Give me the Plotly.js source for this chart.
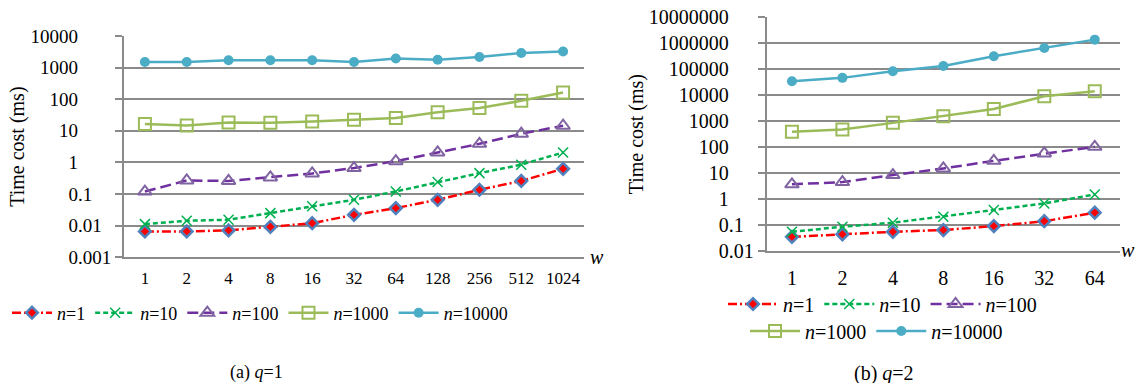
<!DOCTYPE html>
<html>
<head>
<meta charset="utf-8">
<script src="https://cdn.plot.ly/plotly-3.0.1.min.js"></script>
<style>html,body{margin:0;padding:0;background:#fff;}#chart{width:1135px;height:383px;}</style>
</head>
<body>
<div id="chart"></div>
<script>
// ---- data (a) q=1 ----
const categoriesA = ['1','2','4','8','16','32','64','128','256','512','1024'];
const a_n1     = [0.0066,0.0066,0.0071,0.0092,0.012,0.022,0.036,0.066,0.137,0.26,0.63];
const a_n10    = [0.0112,0.0143,0.0154,0.025,0.041,0.066,0.121,0.24,0.46,0.85,2.07];
const a_n100   = [0.12,0.27,0.26,0.335,0.45,0.665,1.1,2.07,3.9,8.1,14.5];
const a_n1000  = [16.4,14.8,18.4,18,19.9,22.5,25.4,39,52.7,89,164];
const a_n10000 = [1500,1500,1700,1700,1700,1500,1950,1780,2160,2900,3250];
const yTicksA  = [0.001,0.01,0.1,1,10,100,1000,10000];
const yLabelsA = ['0.001','0.01','0.1','1','10','100','1000','10000'];

// ---- data (b) q=2 ----
const categoriesB = ['1','2','4','8','16','32','64'];
const b_n1     = [0.035,0.044,0.055,0.064,0.091,0.14,0.30];
const b_n10    = [0.055,0.086,0.123,0.21,0.38,0.68,1.5];
const b_n100   = [3.7,4.5,8.4,15.1,29.7,57,103];
const b_n1000  = [390,480,860,1550,2960,9100,14200];
const b_n10000 = [34600,46500,83000,134000,316000,660000,1380000];
const yTicksB  = [0.01,0.1,1,10,100,1000,10000,100000,1000000,10000000];
const yLabelsB = ['0.01','0.1','1','10','100','1000','10000','100000','1000000','10000000'];

const seriesNames = ['<i>n</i>=1','<i>n</i>=10','<i>n</i>=100','<i>n</i>=1000','<i>n</i>=10000'];
const captionA = '(a) <i>q</i>=1';
const captionB = '(b) <i>q</i>=2';
const yTitle = 'Time cost (ms)';
const xLabel = '<i>w</i>';

// ---- layout helpers ----
const W = 1135, H = 383;
const px = x => x / W;
const py = y => 1 - y / H;
const FONT = 'Liberation Serif, Times New Roman, serif';
const GRID = '#8a8a8a';

// pad labels so that decimal points line up (like the original number format)
function padLabels(labels) {
  const maxDec = Math.max(...labels.map(s => s.includes('.') ? s.split('.')[1].length : 0));
  return labels.map(s => {
    const dec = s.includes('.') ? s.split('.')[1].length : -1;
    if (dec < 0) return s + '\u2008' + '\u2007'.repeat(maxDec);
    return s + '\u2007'.repeat(maxDec - dec);
  });
}

const styles = [
  {color:'#ff0000', dash:'9px,3px,2px,3px', symbol:'diamond', size:9, mcolor:'#ff0000', mline:'#4f81bd', mlw:2.5},
  {color:'#00b050', dash:'5px,3px', symbol:'x-thin-open', size:10, mcolor:'#00b050', mline:'#00b050', mlw:1.5},
  {color:'#7030a0', dash:'11px,5px', symbol:'triangle-up-open', size:12, mcolor:'#8064a2', mline:'#8064a2', mlw:2},
  {color:'#9bbb59', dash:'solid', symbol:'square-open', size:12, mcolor:'#9bbb59', mline:'#9bbb59', mlw:2},
  {color:'#4bacc6', dash:'solid', symbol:'circle', size:10, mcolor:'#4bacc6', mline:'#4bacc6', mlw:0}
];

function mk(xcats, ys, i, xa, ya, legend) {
  const s = styles[i];
  return {
    type:'scatter', mode:'lines+markers', x:xcats, y:ys, name:seriesNames[i],
    xaxis:xa, yaxis:ya, legend:legend, cliponaxis:false,
    line:{color:s.color, width:2.5, dash:s.dash},
    marker:{symbol:s.symbol, size:s.size, color:s.mcolor, line:{color:s.mline, width:s.mlw}}
  };
}

const seriesA = [a_n1, a_n10, a_n100, a_n1000, a_n10000];
const seriesB = [b_n1, b_n10, b_n100, b_n1000, b_n10000];
const traces = [];
seriesA.forEach((ys,i) => traces.push(mk(categoriesA, ys, i, 'x', 'y', 'legend')));
seriesB.forEach((ys,i) => traces.push(mk(categoriesB, ys, i, 'x2', 'y2', i < 3 ? 'legend2' : 'legend3')));

// domains (pixels -> paper)
const domXA = [px(124), px(584)], domYA = [py(257.3), py(36)];
const domXB = [px(766.7), px(1120)], domYB = [py(251), py(17.3)];
const rangeA = [Math.log10(yTicksA[0]), Math.log10(yTicksA[yTicksA.length-1])];
const rangeB = [Math.log10(yTicksB[0]), Math.log10(yTicksB[yTicksB.length-1])];
// y=1 crossing position of the category axis line
const crossA = domYA[0] + (0 - rangeA[0]) / (rangeA[1] - rangeA[0]) * (domYA[1] - domYA[0]);
const crossB = domYB[0] + (0 - rangeB[0]) / (rangeB[1] - rangeB[0]) * (domYB[1] - domYB[0]);

function yax(domain, anchor, range, ticks, labels, size) {
  return {
    domain, anchor, type:'log', range, tickvals:ticks, ticktext:padLabels(labels),
    showgrid:true, gridcolor:GRID, gridwidth:2,
    showline:true, linecolor:GRID, linewidth:2,
    ticks:'outside', ticklen:7, tickwidth:2, tickcolor:GRID,
    tickfont:{family:FONT, size:size, color:'#000'},
    title:{text:yTitle, font:{family:FONT, size:20, color:'#000'}, standoff:0},
    zeroline:false, fixedrange:true
  };
}
function xax(domain, anchor, cats, size, standoff) {
  return {
    domain, anchor, type:'category', categoryarray:cats, range:[-0.5, cats.length-0.5],
    showgrid:false, showline:true, linecolor:GRID, linewidth:2, ticks:'',
    tickfont:{family:FONT, size:size, color:'#000'}, ticklabelstandoff:standoff, fixedrange:true
  };
}
function crossAx(domain, cross, cats, over) {
  const tv = cats.map((c,i) => i); tv.push(cats.length - 0.5);
  return {
    domain, anchor:'free', position:cross, overlaying:over, type:'linear',
    range:[-0.5, cats.length-0.5], tickvals:tv, showticklabels:false,
    ticks:'inside', ticklen:5, tickwidth:2, tickcolor:GRID,
    showline:true, linecolor:GRID, linewidth:2, showgrid:false, zeroline:false, fixedrange:true
  };
}

const layout = {
  width:W, height:H, autosize:false,
  margin:{l:0, r:0, t:0, b:0},
  paper_bgcolor:'#ffffff', plot_bgcolor:'rgba(0,0,0,0)',
  font:{family:FONT, color:'#000'},
  xaxis: xax(domXA, 'y', categoriesA, 17, 4),
  yaxis: yax(domYA, 'x', rangeA, yTicksA, yLabelsA, 19),
  xaxis2: xax(domXB, 'y2', categoriesB, 20, 8),
  yaxis2: yax(domYB, 'x2', rangeB, yTicksB, yLabelsB, 20),
  xaxis3: crossAx(domXA, crossA, categoriesA, 'x'),
  xaxis4: crossAx(domXB, crossB, categoriesB, 'x2'),
  showlegend:true,
  legend:{orientation:'h', x:px(7), y:py(313), xanchor:'left', yanchor:'middle', itemwidth:40,
          font:{family:FONT, size:18, color:'#000'}, bgcolor:'rgba(0,0,0,0)', traceorder:'normal'},
  legend2:{orientation:'h', x:px(723), y:py(304), xanchor:'left', yanchor:'middle', itemwidth:50,
          font:{family:FONT, size:20, color:'#000'}, bgcolor:'rgba(0,0,0,0)', traceorder:'normal'},
  legend3:{orientation:'h', x:px(745), y:py(331), xanchor:'left', yanchor:'middle', itemwidth:50,
          font:{family:FONT, size:20, color:'#000'}, bgcolor:'rgba(0,0,0,0)', traceorder:'normal'},
  annotations:[
    {text:captionA, xref:'paper', yref:'paper', x:px(256), y:py(372), xanchor:'center', yanchor:'middle', showarrow:false, font:{family:FONT, size:18, color:'#000'}},
    {text:captionB, xref:'paper', yref:'paper', x:px(884), y:py(373), xanchor:'center', yanchor:'middle', showarrow:false, font:{family:FONT, size:20, color:'#000'}},
    {text:xLabel, xref:'paper', yref:'paper', x:px(597), y:py(257), xanchor:'center', yanchor:'middle', showarrow:false, font:{family:FONT, size:20, color:'#000'}},
    {text:xLabel, xref:'paper', yref:'paper', x:px(1119), y:py(250), xanchor:'left', yanchor:'middle', showarrow:false, font:{family:FONT, size:20, color:'#000'}}
  ]
};

Plotly.newPlot('chart', traces, layout, {staticPlot:true, displayModeBar:false});
</script>
</body>
</html>
